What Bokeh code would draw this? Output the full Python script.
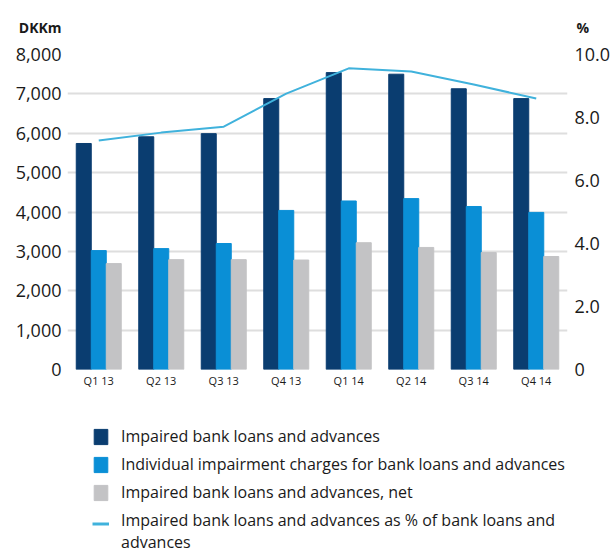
from bokeh.plotting import figure
from bokeh.layouts import column
from bokeh.models import (Range1d, LinearAxis, NumeralTickFormatter, FixedTicker,
                          Legend, LegendItem, ColumnDataSource)
from bokeh.transform import dodge
from bokeh.embed import file_html
from bokeh.resources import INLINE

quarters = ["Q1 13", "Q2 13", "Q3 13", "Q4 13", "Q1 14", "Q2 14", "Q3 14", "Q4 14"]
impaired = [5740, 5910, 5990, 6880, 7540, 7500, 7130, 6880]
charges = [3020, 3070, 3200, 4040, 4280, 4340, 4140, 3990]
net = [2690, 2790, 2790, 2780, 3220, 3100, 2970, 2870]
pct = [7.27, 7.52, 7.71, 8.76, 9.56, 9.46, 9.05, 8.60]

left_ticks = [0, 1000, 2000, 3000, 4000, 5000, 6000, 7000, 8000]
right_ticks = [0, 2, 4, 6, 8, 10]
right_tick_labels = ["0", "2.0", "4.0", "6.0", "8.0", "10.0"]

left_unit = "DKKm"
right_unit = "%"
names = ["Impaired bank loans and advances",
         "Individual impairment charges for bank loans and advances",
         "Impaired bank loans and advances, net",
         "Impaired bank loans and advances as % of bank loans and\nadvances"]

FONT = "Open Sans"
DARK = "#0a3d70"
BLUE = "#0a8fd6"
GRAY = "#c3c3c5"
LINE = "#40b2dc"
TXT = "#1a1a1a"
W = 613
BL, BR = 67, 46


def bare(fig):
    fig.outline_line_color = None
    fig.grid.visible = False


def style_axis(ax, size, standoff, bold=False):
    ax.axis_line_color = None
    ax.major_tick_line_color = None
    ax.minor_tick_line_color = None
    ax.major_tick_out = 0
    ax.major_tick_in = 0
    ax.major_label_text_font = FONT
    ax.major_label_text_font_size = size
    ax.major_label_text_color = TXT
    ax.major_label_standoff = standoff
    if bold:
        ax.major_label_text_font_style = "bold"


# ---------- header: unit labels ----------
hdr = figure(width=W, height=40, x_range=Range1d(0, 1), y_range=Range1d(0, 1),
             output_backend="svg", toolbar_location=None, x_axis_location=None,
             min_border_left=BL, min_border_right=BR, min_border_top=14, min_border_bottom=0)
bare(hdr)
hl = hdr.yaxis[0]
hl.ticker = FixedTicker(ticks=[0.5])
hl.major_label_overrides = {0.5: left_unit}
style_axis(hl, "14px", 6, bold=True)
hr = LinearAxis(ticker=FixedTicker(ticks=[0.5]))
hr.major_label_overrides = {0.5: right_unit}
style_axis(hr, "14px", 9, bold=True)
hdr.add_layout(hr, "right")

# ---------- main chart ----------
src = ColumnDataSource(dict(q=quarters, a=impaired, b=charges, c=net, p=pct))

p = figure(x_range=quarters, y_range=Range1d(0, 8000), width=W, height=370,
           output_backend="svg", toolbar_location=None,
           min_border_left=BL, min_border_right=BR, min_border_top=14, min_border_bottom=41)
p.extra_y_ranges = {"pct": Range1d(0, 10)}
p.x_range.range_padding = 0
p.outline_line_color = None

w = 0.24
p.vbar(x=dodge("q", -w, range=p.x_range), top="a", width=w, source=src, color=DARK)
p.vbar(x=dodge("q", 0, range=p.x_range), top="b", width=w, source=src, color=BLUE)
p.vbar(x=dodge("q", w, range=p.x_range), top="c", width=w, source=src, color=GRAY)
p.line(x="q", y="p", source=src, y_range_name="pct", line_color=LINE, line_width=2)

p.xgrid.grid_line_color = None
p.ygrid.ticker = FixedTicker(ticks=left_ticks)
p.ygrid.grid_line_color = "#dedede"
p.ygrid.grid_line_width = 2
p.ygrid.level = "underlay"

ya = p.yaxis[0]
ya.ticker = FixedTicker(ticks=left_ticks)
ya.formatter = NumeralTickFormatter(format="0,0")
style_axis(ya, "18px", 6)

ra = LinearAxis(y_range_name="pct", ticker=FixedTicker(ticks=right_ticks))
ra.major_label_overrides = {t: l for t, l in zip(right_ticks, right_tick_labels)}
style_axis(ra, "18px", 7)
p.add_layout(ra, "right")

xa = p.xaxis[0]
style_axis(xa, "11px", 3)

# ---------- legend (renderers kept out of view; only their legend glyphs show) ----------
lg = figure(width=W, height=143, x_range=quarters, y_range=Range1d(20000, 30000),
            output_backend="svg", toolbar_location=None,
            x_axis_location=None, y_axis_location=None,
            min_border_left=BL, min_border_right=BR, min_border_top=0, min_border_bottom=0)
bare(lg)
g1 = lg.vbar(x="q", top="a", width=0.2, source=src, color=DARK)
g2 = lg.vbar(x="q", top="b", width=0.2, source=src, color=BLUE)
g3 = lg.vbar(x="q", top="c", width=0.2, source=src, color=GRAY)
g4 = lg.line(x="q", y="a", source=src, line_color=LINE, line_width=3)
g5 = lg.line(x="q", y="a", source=src, line_alpha=0)

common = dict(orientation="vertical", label_text_font=FONT, label_text_font_size="16px",
              label_text_color=TXT, glyph_width=17, glyph_height=19, label_height=19,
              spacing=6, label_standoff=12, padding=0, margin=0,
              border_line_color=None, background_fill_alpha=0)
legA = Legend(items=[LegendItem(label=names[0], renderers=[g1]),
                     LegendItem(label=names[1], renderers=[g2]),
                     LegendItem(label=names[2], renderers=[g3]),
                     LegendItem(label=names[3], renderers=[g5])],
              location=(25, 0), **common)
legC = Legend(items=[LegendItem(label=" ", renderers=[g4])],
              location=(25, 20), **common)
lg.add_layout(legA)
lg.add_layout(legC)

layout = column(hdr, p, lg, spacing=0)
open("out.html", "w").write(file_html(layout, INLINE))
